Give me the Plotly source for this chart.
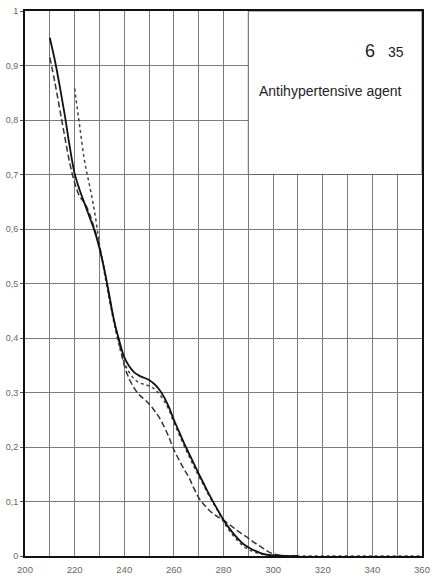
import plotly.graph_objects as go

# Wavelength (nm) / absorbance series
solid_nm = [210, 212, 214, 216, 218, 220, 222, 224, 226, 228, 230, 232, 234, 236, 238, 240,
            242, 244, 246, 248, 250, 252, 254, 256, 258, 260, 262, 264, 266, 268, 270, 272,
            274, 276, 278, 280, 282, 284, 286, 288, 290, 292, 294, 296, 298, 300, 305, 310]
solid_abs = [0.951, 0.91, 0.862, 0.81, 0.752, 0.702, 0.672, 0.647, 0.622, 0.597, 0.565, 0.525,
             0.478, 0.43, 0.395, 0.365, 0.348, 0.337, 0.331, 0.327, 0.323, 0.316, 0.306, 0.292,
             0.273, 0.25, 0.229, 0.208, 0.189, 0.17, 0.151, 0.133, 0.115, 0.098, 0.082, 0.066,
             0.053, 0.041, 0.031, 0.022, 0.016, 0.011, 0.007, 0.004, 0.002, 0.001, 0.0, 0.0]

dashed_nm = [210, 212, 214, 216, 218, 220, 222, 224, 226, 228, 230, 232, 234, 236, 238, 240,
             242, 244, 246, 248, 250, 252, 254, 256, 258, 260, 262, 264, 266, 268, 270, 272,
             274, 276, 278, 280, 282, 284, 286, 288, 290, 292, 294, 296, 298, 300, 302, 305, 310]
dashed_abs = [0.915, 0.87, 0.82, 0.77, 0.722, 0.685, 0.66, 0.648, 0.628, 0.6, 0.568, 0.525,
              0.475, 0.43, 0.39, 0.35, 0.325, 0.308, 0.296, 0.288, 0.279, 0.268, 0.255, 0.238,
              0.218, 0.195, 0.177, 0.16, 0.145, 0.125, 0.107, 0.095, 0.085, 0.077, 0.071, 0.066,
              0.059, 0.052, 0.045, 0.039, 0.033, 0.026, 0.02, 0.014, 0.008, 0.004, 0.002, 0.0, 0.0]

dotted_nm = [220, 222, 224, 226, 228, 230, 232, 234, 236, 238, 240, 242, 244, 246, 248, 250,
             252, 254, 256, 258, 260, 262, 264, 266, 268, 270, 272, 274, 276, 278, 280, 282,
             284, 286, 288, 290, 292, 294, 296, 298, 300, 305, 320, 340, 360]
dotted_abs = [0.858, 0.79, 0.725, 0.68, 0.633, 0.572, 0.52, 0.47, 0.425, 0.385, 0.355, 0.337,
              0.325, 0.318, 0.315, 0.312, 0.307, 0.298, 0.285, 0.268, 0.245, 0.224, 0.204,
              0.184, 0.165, 0.147, 0.13, 0.112, 0.096, 0.08, 0.063, 0.049, 0.037, 0.027,
              0.018, 0.012, 0.008, 0.005, 0.003, 0.002, 0.001, 0.0, 0.0, 0.0, 0.0]

x_ticks = [200, 220, 240, 260, 280, 300, 320, 340, 360]
y_ticks = [0, 0.1, 0.2, 0.3, 0.4, 0.5, 0.6, 0.7, 0.8, 0.9, 1.0]

fig = go.Figure()
fig.add_trace(go.Scatter(x=dotted_nm, y=dotted_abs, mode="lines", line_shape="spline",
                         line=dict(color="#444444", width=1.5, dash="dot")))
fig.add_trace(go.Scatter(x=dashed_nm, y=dashed_abs, mode="lines", line_shape="spline",
                         line=dict(color="#333333", width=1.5, dash="6px,3px")))
fig.add_trace(go.Scatter(x=solid_nm, y=solid_abs, mode="lines", line_shape="spline",
                         line=dict(color="#111111", width=1.8)))

# Label panel in the upper right corner, hiding the grid behind it
fig.add_shape(type="rect", xref="x", yref="y", x0=290, x1=360, y0=0.7, y1=1.0,
              fillcolor="white", line=dict(color="#666666", width=1), layer="between")

fig.add_annotation(x=339.0, y=0.904, xref="x", yref="y", yanchor="bottom", text="6",
                   showarrow=False,
                   font=dict(size=18, color="#222222", family="Liberation Sans"))
fig.add_annotation(x=349.5, y=0.906, xref="x", yref="y", yanchor="bottom", text="35",
                   showarrow=False,
                   font=dict(size=14, color="#222222", family="Liberation Sans"))
fig.add_annotation(x=323.0, y=0.853, xref="x", yref="y", text="Antihypertensive agent",
                   showarrow=False,
                   font=dict(size=14, color="#222222", family="Liberation Sans"))

fig.update_layout(
    width=436, height=581,
    margin=dict(l=25, r=6, t=8, b=25),
    paper_bgcolor="white", plot_bgcolor="white",
    showlegend=False,
    separators=", ",
    font=dict(family="Liberation Sans", size=9, color="#555555"),
)
fig.update_xaxes(
    range=[200, 360], tickvals=x_ticks, ticktext=[str(v) for v in x_ticks],
    showgrid=True, gridcolor="#7a7a7a", gridwidth=1,
    minor=dict(dtick=10, tick0=200, showgrid=True, gridcolor="#7a7a7a", gridwidth=1),
    showline=True, linecolor="#111111", linewidth=2, mirror=True,
    ticks="", zeroline=False, tickfont=dict(size=9.5, color="#666666"),
    ticklabelstandoff=4, ticklabeloverflow="allow",
)
fig.update_yaxes(
    range=[0, 1], tickvals=y_ticks,
    showgrid=True, gridcolor="#7a7a7a", gridwidth=1,
    showline=True, linecolor="#111111", linewidth=2, mirror=True,
    ticks="outside", ticklen=3, tickcolor="#555555",
    zeroline=False, tickfont=dict(size=9, color="#666666"),
)

fig.write_html("out.html")
